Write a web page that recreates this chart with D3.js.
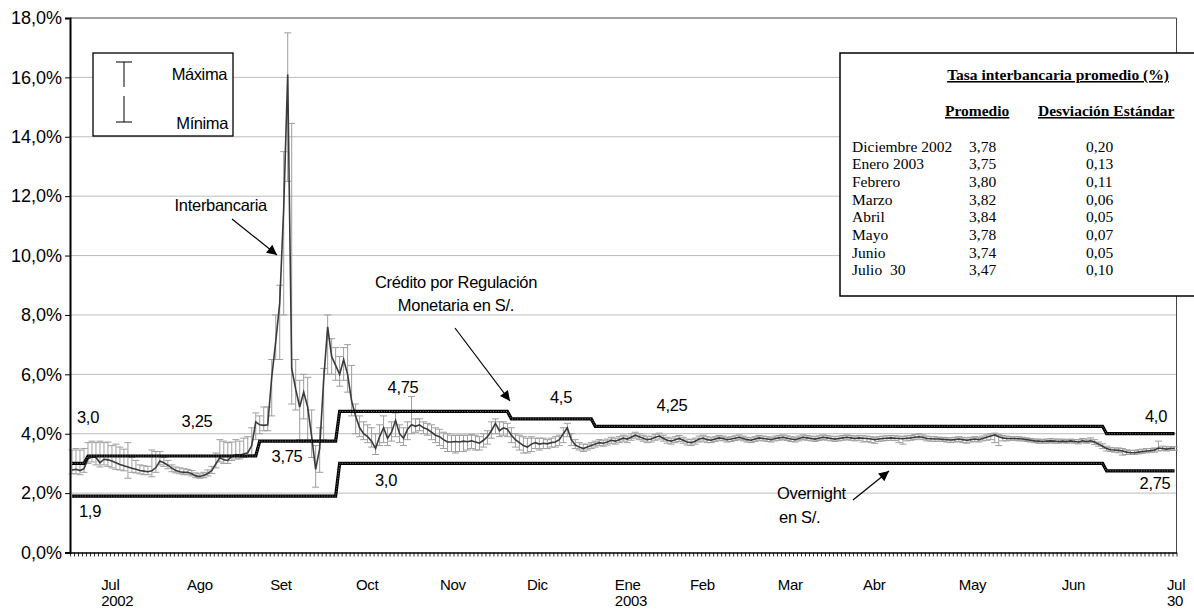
<!DOCTYPE html>
<html><head>
<meta charset="utf-8">
<title>Tasa interbancaria</title>
<script src="https://cdn.jsdelivr.net/npm/d3@7/dist/d3.min.js"></script>
<style>
  body { margin: 0; background: #fff; }
  svg { display: block; }
  .chart text { font-family: "Liberation Sans", Arial, sans-serif; fill: #000; }
  .tabla text { font-family: "Liberation Serif", "Times New Roman", serif; font-size: 15.5px; fill: #000; }
</style>
</head>
<body>
<svg class="chart" width="1194" height="610"></svg>
<script>

// tasa interbancaria diaria (%), maxima y minima del dia
let tasa = [
  2.78,2.80,2.76,2.82,3.15,3.22,3.20,3.02,3.14,3.12,
  3.08,3.02,2.96,2.92,2.88,2.84,2.80,2.76,2.74,2.72,
  2.75,2.86,3.08,3.02,2.94,2.84,2.76,2.72,2.70,2.70,
  2.65,2.58,2.56,2.60,2.66,2.76,2.98,3.20,3.12,3.10,
  3.24,3.30,3.28,3.32,3.36,3.60,4.40,4.30,4.28,4.30,
  5.90,7.10,8.40,11.6,16.1,6.20,5.50,4.90,5.40,4.90,
  3.90,2.80,3.50,5.80,7.60,6.60,6.30,6.00,6.50,6.00,
  5.10,4.60,4.20,4.00,3.90,3.75,3.50,3.90,4.20,3.85,
  4.05,4.45,4.00,3.85,4.15,4.30,4.25,4.30,4.20,4.15,
  4.05,3.95,3.90,3.80,3.72,3.72,3.74,3.72,3.75,3.73,
  3.76,3.72,3.68,3.78,3.90,4.10,4.35,4.10,4.20,4.15,
  3.95,3.80,3.70,3.60,3.55,3.65,3.70,3.65,3.68,3.66,
  3.70,3.72,3.80,4.00,4.20,3.80,3.62,3.55,3.50,3.55,
  3.60,3.65,3.70,3.68,3.72,3.78,3.75,3.80,3.85,3.82,
  3.88,3.95,3.90,3.85,3.80,3.82,3.88,3.92,3.85,3.78,
  3.75,3.80,3.84,3.78,3.72,3.70,3.75,3.82,3.85,3.80,
  3.78,3.82,3.86,3.84,3.80,3.82,3.85,3.88,3.84,3.80,
  3.78,3.82,3.86,3.84,3.82,3.80,3.84,3.86,3.88,3.85,
  3.82,3.80,3.84,3.88,3.86,3.84,3.82,3.85,3.88,3.86,
  3.84,3.82,3.84,3.86,3.88,3.86,3.84,3.86,3.85,3.84,
  3.82,3.80,3.82,3.84,3.85,3.86,3.85,3.84,3.83,3.85,
  3.86,3.88,3.90,3.88,3.84,3.83,3.82,3.82,3.81,3.80,
  3.79,3.80,3.82,3.80,3.78,3.80,3.82,3.80,3.84,3.88,
  3.92,3.96,3.90,3.86,3.84,3.84,3.84,3.83,3.82,3.80,
  3.78,3.76,3.75,3.74,3.75,3.76,3.75,3.74,3.75,3.74,
  3.76,3.74,3.72,3.76,3.74,3.76,3.72,3.65,3.58,3.50,
  3.46,3.45,3.44,3.42,3.38,3.36,3.36,3.38,3.40,3.42,
  3.43,3.45,3.52,3.50,3.48,3.50,3.50
];
let tasaMax = [
  3.45,3.50,3.45,3.50,3.70,3.75,3.70,3.75,3.70,3.72,
  3.60,3.65,3.55,3.48,3.70,3.20,3.10,2.95,2.92,2.90,
  3.45,3.40,3.40,3.20,3.10,2.95,2.88,2.85,2.82,2.80,
  2.76,2.68,2.65,2.70,2.78,2.90,3.35,3.80,3.75,3.70,
  3.72,3.80,3.75,3.85,3.90,4.20,4.70,4.60,4.90,4.90,
  6.50,8.00,9.00,13.5,17.5,14.45,6.50,5.80,6.00,5.90,
  4.80,3.60,4.20,6.20,8.00,7.20,6.90,6.60,6.90,7.00,
  6.30,5.00,4.60,4.40,4.30,4.20,4.00,4.30,4.60,4.20,
  4.40,4.70,4.30,4.20,4.40,5.25,4.50,4.50,4.40,4.35,
  4.30,4.20,4.15,4.05,4.00,3.95,3.95,3.95,3.95,3.95,
  3.98,3.95,3.90,4.00,4.10,4.40,4.50,4.40,4.40,4.35,
  4.20,4.00,3.95,3.90,3.85,3.90,3.85,3.85,3.85,3.80,
  3.85,3.90,3.95,4.20,4.35,4.00,3.80,3.70,3.65,3.65,
  3.70,3.75,3.80,3.78,3.82,3.88,3.85,3.90,3.95,3.92,
  4.00,4.05,4.00,3.95,3.90,3.92,3.98,4.02,3.95,3.88,
  3.85,3.90,3.94,3.88,3.82,3.80,3.85,3.92,3.95,3.90,
  3.86,3.90,3.94,3.92,3.88,3.90,3.93,3.96,3.92,3.88,
  3.86,3.90,3.94,3.92,3.90,3.88,3.92,3.94,3.96,3.93,
  3.90,3.88,3.92,3.96,3.94,3.92,3.90,3.93,3.96,3.94,
  3.92,3.90,3.92,3.94,3.96,3.94,3.92,3.94,3.93,3.92,
  3.90,3.88,3.90,3.92,3.93,3.94,3.93,3.92,3.90,3.93,
  3.94,3.97,4.00,3.96,3.92,3.90,3.90,3.88,3.88,3.87,
  3.86,3.88,3.90,3.88,3.86,3.88,3.90,3.88,3.92,3.96,
  4.00,4.02,3.98,3.94,3.92,3.90,3.90,3.90,3.88,3.86,
  3.84,3.82,3.82,3.80,3.82,3.84,3.82,3.82,3.82,3.80,
  3.82,3.80,3.80,3.84,3.82,3.86,3.80,3.72,3.66,3.58,
  3.54,3.52,3.52,3.50,3.46,3.44,3.44,3.46,3.48,3.50,
  3.50,3.52,3.75,3.58,3.56,3.56,3.56
];
let tasaMin = [
  2.65,2.65,2.62,2.70,3.00,3.05,2.95,2.88,2.95,2.90,
  2.85,2.80,2.78,2.75,2.50,2.70,2.68,2.65,2.62,2.62,
  2.55,2.70,2.95,2.90,2.82,2.72,2.68,2.65,2.62,2.62,
  2.58,2.52,2.50,2.52,2.58,2.66,2.85,3.05,3.00,3.00,
  3.10,3.15,3.15,3.20,3.25,3.30,3.80,4.00,4.10,4.10,
  4.60,6.50,6.50,8.00,12.5,5.00,4.80,3.80,4.50,3.80,
  3.20,2.20,2.70,3.80,6.00,6.00,5.80,5.60,5.80,5.40,
  4.60,4.00,3.90,3.80,3.70,3.55,3.30,3.60,3.70,3.60,
  3.75,3.90,3.70,3.60,3.80,4.00,4.05,4.10,4.00,3.95,
  3.80,3.70,3.60,3.50,3.40,3.40,3.35,3.40,3.40,3.45,
  3.50,3.45,3.45,3.55,3.65,3.85,4.00,3.90,3.95,3.90,
  3.70,3.55,3.45,3.35,3.35,3.40,3.50,3.45,3.50,3.50,
  3.55,3.55,3.60,3.70,3.90,3.60,3.50,3.45,3.40,3.45,
  3.50,3.55,3.60,3.58,3.62,3.68,3.65,3.70,3.75,3.70,
  3.78,3.85,3.80,3.75,3.70,3.72,3.78,3.82,3.75,3.68,
  3.65,3.70,3.74,3.68,3.62,3.60,3.65,3.72,3.75,3.70,
  3.70,3.74,3.78,3.76,3.72,3.74,3.77,3.80,3.76,3.72,
  3.70,3.74,3.78,3.76,3.74,3.72,3.76,3.78,3.80,3.77,
  3.74,3.72,3.76,3.80,3.78,3.76,3.74,3.77,3.80,3.78,
  3.76,3.74,3.76,3.78,3.80,3.78,3.76,3.78,3.72,3.74,
  3.70,3.68,3.74,3.76,3.77,3.78,3.77,3.70,3.65,3.76,
  3.78,3.80,3.82,3.80,3.76,3.75,3.74,3.75,3.74,3.72,
  3.70,3.72,3.74,3.70,3.68,3.72,3.74,3.72,3.76,3.78,
  3.80,3.70,3.60,3.76,3.76,3.78,3.78,3.76,3.76,3.74,
  3.72,3.70,3.68,3.68,3.68,3.70,3.68,3.68,3.70,3.68,
  3.70,3.68,3.66,3.70,3.68,3.70,3.64,3.58,3.50,3.42,
  3.40,3.38,3.36,3.28,3.30,3.30,3.30,3.32,3.34,3.36,
  3.38,3.38,3.42,3.44,3.42,3.44,3.44
];

// tasas de referencia: dia en que empieza cada tramo y su nivel (%)
let creditoDesde = [0, 4, 47, 67, 110, 131, 259];
let creditoTasa  = [3.0, 3.25, 3.75, 4.75, 4.5, 4.25, 4.0];
let overnightDesde = [0, 67, 259];
let overnightTasa  = [1.9, 3.0, 2.75];

// etiquetas del eje x (dia donde arranca el texto)
let meses    = ["Jul","Ago","Set","Oct","Nov","Dic","Ene","Feb","Mar","Abr","May","Jun","Jul"];
let mesesDia = [7.8, 29.3, 50.1, 71.6, 92.6, 114.4, 136.4, 155.2, 177.2, 198.5, 222.5, 248.3, 274.6];
let anios    = {0: "2002", 6: "2003", 12: "30"};

let yTicks = [0, 2, 4, 6, 8, 10, 12, 14, 16, 18];

// cuadro resumen
let tablaMes  = ["Diciembre 2002","Enero 2003","Febrero","Marzo","Abril","Mayo","Junio","Julio  30"];
let tablaProm = ["3,78","3,75","3,80","3,82","3,84","3,78","3,74","3,47"];
let tablaDesv = ["0,20","0,13","0,11","0,06","0,05","0,07","0,05","0,10"];

let N = tasa.length;

let svg = d3.select("svg");

let x = d3.scaleLinear().domain([0, N]).range([70, 1176.5]);
let y = d3.scaleLinear().domain([0, 18]).range([552.5, 18]);
let cx = i => x(i + 0.5);

// grid
svg.append("g").selectAll("line")
  .data(yTicks.filter(d => d > 0 && d < 18))
  .join("line")
  .attr("x1", x(0)).attr("x2", x(N))
  .attr("y1", d => y(d)).attr("y2", d => y(d))
  .style("stroke", "#bdbdbd").style("stroke-width", 1);

// marco superior y derecho
svg.append("path")
  .attr("d", `M${x(0)},${y(18)}H${x(N)}V${y(0)}`)
  .style("fill", "none").style("stroke", "#444").style("stroke-width", 1);

// barras maxima-minima
let barras = svg.append("g").style("stroke", "#9e9e9e").style("stroke-width", 1);
tasa.forEach(function(d, i) {
  let px = cx(i);
  barras.append("line").attr("x1", px).attr("x2", px).attr("y1", y(tasaMax[i])).attr("y2", y(tasaMin[i]));
  barras.append("line").attr("x1", px - 3.5).attr("x2", px + 3.5).attr("y1", y(tasaMax[i])).attr("y2", y(tasaMax[i]));
  barras.append("line").attr("x1", px - 3.5).attr("x2", px + 3.5).attr("y1", y(tasaMin[i])).attr("y2", y(tasaMin[i]));
});

// interbancaria
svg.append("path")
  .datum(tasa)
  .attr("d", d3.line().x((d, i) => cx(i)).y(d => y(d)))
  .style("fill", "none").style("stroke", "#3a3a3a").style("stroke-width", 1.6);

// lineas escalonadas
function tramos(desde, tasas) {
  let pts = [];
  desde.forEach(function(d, k) {
    let hasta = k < desde.length - 1 ? desde[k + 1] - 1 : N - 1;
    pts.push([d, tasas[k]], [hasta, tasas[k]]);
  });
  return pts;
}
let stepLine = d3.line().x(p => cx(p[0])).y(p => y(p[1]));
[tramos(creditoDesde, creditoTasa), tramos(overnightDesde, overnightTasa)].forEach(function(pts) {
  svg.append("path").attr("d", stepLine(pts))
    .style("fill", "none").style("stroke", "#000").style("stroke-width", 3.2);
  svg.append("path").attr("d", stepLine(pts))
    .style("fill", "none").style("stroke", "#8a8a8a").style("stroke-width", 0.9)
    .style("stroke-dasharray", "1,1.6");
});

// ejes
let yAxis = svg.append("g")
  .attr("transform", `translate(${x(0)},0)`)
  .call(d3.axisLeft(y).tickValues(yTicks).tickSize(5).tickPadding(3)
    .tickFormat(d => d3.format(".1f")(d).replace(".", ",") + "%"));
yAxis.select(".domain").style("stroke", "#000").style("stroke-width", 2);
yAxis.selectAll("text").style("font-size", "18px").style("font-family", "Liberation Sans, Arial");

let xAxis = svg.append("g")
  .attr("transform", `translate(0,${y(0)})`)
  .call(d3.axisBottom(x).tickValues(d3.range(N + 1)).tickSize(4).tickSizeOuter(0).tickFormat(""));
xAxis.select(".domain").style("stroke", "#000").style("stroke-width", 1.5);
xAxis.selectAll(".tick line").style("stroke", "#000").style("stroke-width", 0.8);

meses.forEach(function(m, k) {
  svg.append("text")
    .attr("x", x(mesesDia[k])).attr("y", 590)
    .style("font-size", "15px").style("letter-spacing", "-0.3px")
    .text(m);
  if (anios[k]) {
    svg.append("text")
      .attr("x", x(mesesDia[k])).attr("y", 606)
      .style("font-size", "15px").style("letter-spacing", "-0.3px")
      .text(anios[k]);
  }
});

// leyenda
let ley = svg.append("g");
ley.append("rect").attr("x", 93).attr("y", 53).attr("width", 140).attr("height", 83)
  .style("fill", "#fff").style("stroke", "#000").style("stroke-width", 1.3);
ley.append("path").attr("d", "M116,62H132M124,62V87M124,96V122M116,122H132")
  .style("fill", "none").style("stroke", "#000").style("stroke-width", 1);
ley.append("text").attr("x", 227).attr("y", 80).attr("text-anchor", "end")
  .style("font-size", "16.5px").style("letter-spacing", "-0.4px").text("Máxima");
ley.append("text").attr("x", 228).attr("y", 129).attr("text-anchor", "end")
  .style("font-size", "16.5px").style("letter-spacing", "-0.4px").text("Mínima");

// anotaciones
svg.append("defs").append("marker")
  .attr("id", "flecha").attr("viewBox", "0 0 10 10")
  .attr("refX", 10).attr("refY", 5)
  .attr("markerWidth", 13).attr("markerHeight", 10).attr("markerUnits", "userSpaceOnUse")
  .attr("orient", "auto")
  .append("path").attr("d", "M0,0L10,5L0,10Z").style("fill", "#000");

function flecha(x1, y1, x2, y2) {
  svg.append("line").attr("x1", x1).attr("y1", y1).attr("x2", x2).attr("y2", y2)
    .style("stroke", "#000").style("stroke-width", 1.2)
    .attr("marker-end", "url(#flecha)");
}
flecha(232, 219, 277, 255);
flecha(455, 328, 510, 401);
flecha(853, 500, 889, 471);

function nota(txt, px, py, anchor) {
  svg.append("text").attr("x", px).attr("y", py).attr("text-anchor", anchor || "middle")
    .style("font-size", "16.5px").style("letter-spacing", "-0.3px").text(txt);
}
nota("Interbancaria", 267, 211, "end");
nota("Crédito por Regulación", 456, 288);
nota("Monetaria en S/.", 456, 311);
nota("Overnight", 777, 499, "start");
nota("en S/.", 779, 523, "start");

nota("3,0", 88, 423);
nota("3,25", 197, 427);
nota("3,75", 287, 462);
nota("1,9", 90, 517);
nota("4,75", 403, 393);
nota("3,0", 386, 486);
nota("4,5", 561, 403);
nota("4,25", 672, 411);
nota("4,0", 1156, 422);
nota("2,75", 1155, 489);

// cuadro de promedios
let tabla = svg.append("g").attr("class", "tabla");
tabla.append("rect").attr("x", 840).attr("y", 53).attr("width", 370).attr("height", 243)
  .style("fill", "#fff").style("stroke", "#000").style("stroke-width", 1.5);
tabla.append("text").attr("x", 1058).attr("y", 80).attr("text-anchor", "middle")
  .style("font-weight", "bold").style("text-decoration", "underline")
  .text("Tasa interbancaria promedio (%)");
tabla.append("text").attr("x", 945).attr("y", 116)
  .style("font-weight", "bold").style("text-decoration", "underline").text("Promedio");
tabla.append("text").attr("x", 1038).attr("y", 116)
  .style("font-weight", "bold").style("text-decoration", "underline").text("Desviación Estándar");

tablaMes.forEach(function(m, k) {
  let ty = 151.5 + k * 17.7;
  tabla.append("text").attr("x", 852).attr("y", ty).style("white-space", "pre").text(m);
  tabla.append("text").attr("x", 969).attr("y", ty).text(tablaProm[k]);
  tabla.append("text").attr("x", 1086).attr("y", ty).text(tablaDesv[k]);
});

</script>
</body>
</html>
